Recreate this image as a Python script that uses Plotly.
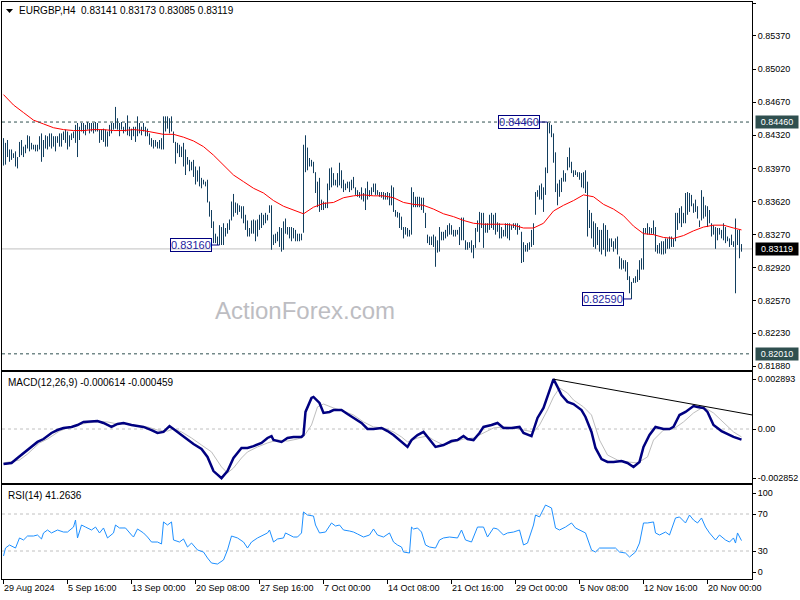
import plotly.graph_objects as go

# ---------------- data ----------------
bar_high = [
0.8429,0.8424,0.8427,0.8417,0.8417,0.8413,0.8415,0.8409,0.8425,0.8427,
0.8420,0.8422,0.8432,0.8431,0.8424,0.8422,0.8422,0.8422,0.8431,0.8434,
0.8427,0.8432,0.8431,0.8434,0.8434,0.8431,0.8431,0.8431,0.8434,0.8434,
0.8436,0.8438,0.8436,0.8432,0.8434,0.8436,0.8443,0.8445,0.8441,0.8445,
0.8445,0.8443,0.8446,0.8445,0.8445,0.8445,0.8446,0.8445,0.8438,0.8438,
0.8439,0.8438,0.8436,0.8443,0.8445,0.8445,0.8462,0.8450,0.8445,0.8446,
0.8441,0.8445,0.8453,0.8441,0.8439,0.8441,0.8441,0.8452,0.8445,0.8441,
0.8445,0.8441,0.8439,0.8434,0.8429,0.8427,0.8427,0.8425,0.8427,0.8429,
0.8452,0.8452,0.8452,0.8450,0.8452,0.8436,0.8425,0.8424,0.8422,0.8420,
0.8424,0.8417,0.8409,0.8406,0.8404,0.8406,0.8399,0.8395,0.8399,0.8387,
0.8385,0.8383,0.8385,0.8362,0.8353,0.8341,0.8328,0.8325,0.8337,0.8335,
0.8339,0.8334,0.8339,0.8343,0.8362,0.8370,0.8361,0.8360,0.8358,0.8357,
0.8357,0.8348,0.8342,0.8334,0.8342,0.8343,0.8342,0.8343,0.8348,0.8350,
0.8348,0.8350,0.8348,0.8358,0.8358,0.8327,0.8328,0.8330,0.8335,0.8334,
0.8341,0.8344,0.8335,0.8335,0.8335,0.8334,0.8332,0.8328,0.8328,0.8328,
0.8422,0.8432,0.8419,0.8408,0.8406,0.8404,0.8393,0.8383,0.8387,0.8364,
0.8362,0.8361,0.8381,0.8397,0.8398,0.8392,0.8385,0.8392,0.8403,0.8395,
0.8385,0.8381,0.8383,0.8383,0.8385,0.8388,0.8377,0.8374,0.8372,0.8377,
0.8371,0.8376,0.8383,0.8374,0.8377,0.8381,0.8381,0.8374,0.8372,0.8372,
0.8372,0.8371,0.8372,0.8371,0.8379,0.8377,0.8353,0.8351,0.8350,0.8346,
0.8335,0.8335,0.8334,0.8332,0.8377,0.8372,0.8367,0.8367,0.8367,0.8366,
0.8366,0.8350,0.8327,0.8325,0.8325,0.8327,0.8325,0.8321,0.8335,0.8330,
0.8330,0.8332,0.8337,0.8339,0.8337,0.8332,0.8332,0.8332,0.8335,0.8345,
0.8345,0.8321,0.8319,0.8319,0.8321,0.8316,0.8334,0.8342,0.8351,0.8350,
0.8350,0.8339,0.8339,0.8348,0.8350,0.8348,0.8350,0.8340,0.8339,0.8335,
0.8332,0.8339,0.8339,0.8339,0.8337,0.8339,0.8339,0.8339,0.8337,0.8330,
0.8319,0.8316,0.8318,0.8319,0.8332,0.8339,0.8372,0.8374,0.8379,0.8381,
0.8377,0.8398,0.8446,0.8445,0.8443,0.8434,0.8414,0.8381,0.8385,0.8387,
0.8395,0.8392,0.8409,0.8419,0.8404,0.8395,0.8395,0.8393,0.8393,0.8392,
0.8393,0.8395,0.8383,0.8353,0.8350,0.8341,0.8339,0.8335,0.8332,0.8332,
0.8339,0.8337,0.8332,0.8323,0.8323,0.8320,0.8323,0.8325,0.8304,0.8302,
0.8300,0.8300,0.8298,0.8283,0.8277,0.8281,0.8283,0.8290,0.8300,0.8302,
0.8334,0.8334,0.8339,0.8335,0.8334,0.8342,0.8335,0.8316,0.8318,0.8320,
0.8320,0.8323,0.8323,0.8325,0.8325,0.8323,0.8350,0.8350,0.8355,0.8357,
0.8350,0.8371,0.8372,0.8371,0.8369,0.8360,0.8364,0.8357,0.8342,0.8374,
0.8367,0.8358,0.8357,0.8353,0.8339,0.8337,0.8335,0.8334,0.8334,0.8332,
0.8339,0.8335,0.8325,0.8323,0.8327,0.8320,0.8344,0.8332,0.8332,0.8317]

bar_low = [
0.8400,0.8401,0.8409,0.8404,0.8406,0.8408,0.8399,0.8397,0.8409,0.8411,
0.8409,0.8413,0.8418,0.8415,0.8417,0.8417,0.8415,0.8415,0.8417,0.8404,
0.8409,0.8418,0.8417,0.8420,0.8418,0.8420,0.8415,0.8424,0.8420,0.8420,
0.8427,0.8424,0.8417,0.8420,0.8427,0.8429,0.8424,0.8409,0.8427,0.8436,
0.8434,0.8432,0.8438,0.8434,0.8436,0.8434,0.8436,0.8436,0.8424,0.8427,
0.8425,0.8420,0.8420,0.8431,0.8434,0.8438,0.8439,0.8438,0.8431,0.8438,
0.8434,0.8436,0.8432,0.8431,0.8427,0.8431,0.8425,0.8431,0.8434,0.8432,
0.8436,0.8431,0.8431,0.8422,0.8420,0.8418,0.8420,0.8418,0.8418,0.8417,
0.8417,0.8436,0.8439,0.8434,0.8436,0.8424,0.8402,0.8413,0.8409,0.8409,
0.8399,0.8390,0.8401,0.8394,0.8395,0.8388,0.8380,0.8383,0.8378,0.8376,
0.8380,0.8378,0.8361,0.8346,0.8334,0.8318,0.8318,0.8316,0.8316,0.8316,
0.8316,0.8325,0.8328,0.8332,0.8342,0.8346,0.8350,0.8348,0.8351,0.8344,
0.8339,0.8332,0.8325,0.8325,0.8328,0.8328,0.8320,0.8325,0.8332,0.8334,
0.8337,0.8339,0.8342,0.8350,0.8311,0.8316,0.8318,0.8320,0.8314,0.8309,
0.8311,0.8328,0.8327,0.8323,0.8320,0.8323,0.8320,0.8320,0.8320,0.8321,
0.8329,0.8393,0.8395,0.8399,0.8399,0.8392,0.8371,0.8356,0.8351,0.8353,
0.8353,0.8355,0.8355,0.8374,0.8377,0.8379,0.8379,0.8377,0.8379,0.8376,
0.8372,0.8374,0.8376,0.8372,0.8374,0.8376,0.8369,0.8367,0.8366,0.8364,
0.8362,0.8353,0.8364,0.8367,0.8369,0.8372,0.8369,0.8369,0.8367,0.8366,
0.8364,0.8364,0.8364,0.8358,0.8358,0.8351,0.8346,0.8345,0.8334,0.8332,
0.8323,0.8327,0.8325,0.8325,0.8327,0.8356,0.8356,0.8356,0.8356,0.8353,
0.8350,0.8334,0.8318,0.8316,0.8316,0.8314,0.8293,0.8308,0.8309,0.8321,
0.8321,0.8323,0.8325,0.8327,0.8327,0.8325,0.8325,0.8327,0.8316,0.8321,
0.8321,0.8311,0.8311,0.8313,0.8308,0.8302,0.8313,0.8330,0.8319,0.8334,
0.8313,0.8329,0.8329,0.8332,0.8334,0.8332,0.8327,0.8330,0.8323,0.8323,
0.8325,0.8325,0.8323,0.8321,0.8332,0.8334,0.8332,0.8327,0.8332,0.8297,
0.8298,0.8309,0.8309,0.8311,0.8314,0.8316,0.8348,0.8367,0.8364,0.8364,
0.8351,0.8369,0.8392,0.8434,0.8430,0.8403,0.8372,0.8358,0.8367,0.8372,
0.8383,0.8383,0.8395,0.8398,0.8392,0.8388,0.8390,0.8388,0.8385,0.8377,
0.8376,0.8371,0.8325,0.8334,0.8323,0.8314,0.8312,0.8316,0.8309,0.8306,
0.8311,0.8304,0.8309,0.8309,0.8314,0.8309,0.8312,0.8306,0.8291,0.8290,
0.8291,0.8288,0.8279,0.8265,0.8259,0.8276,0.8276,0.8277,0.8279,0.8290,
0.8290,0.8328,0.8327,0.8327,0.8328,0.8327,0.8309,0.8307,0.8307,0.8306,
0.8306,0.8307,0.8312,0.8312,0.8314,0.8314,0.8320,0.8332,0.8339,0.8335,
0.8339,0.8339,0.8348,0.8351,0.8357,0.8350,0.8351,0.8344,0.8335,0.8342,
0.8344,0.8346,0.8335,0.8339,0.8325,0.8327,0.8312,0.8321,0.8327,0.8323,
0.8321,0.8318,0.8320,0.8314,0.8316,0.8314,0.8265,0.8316,0.8302,0.8309]

ma_bar = list(range(0, 370, 5)) + [369]
ma_val = [
0.8475,0.8464,0.8456,0.8448,0.8444,0.8440,0.8438,0.8437,0.8437,0.8438,
0.8438,0.8437,0.8437,0.8438,0.8437,0.8435,0.8433,0.8433,0.8430,0.8426,
0.8420,0.8411,0.8400,0.8390,0.8383,0.8376,0.8371,0.8363,0.8357,0.8353,
0.8349,0.8356,0.8360,0.8361,0.8366,0.8368,0.8369,0.8368,0.8368,0.8366,
0.8361,0.8359,0.8358,0.8354,0.8349,0.8346,0.8342,0.8339,0.8338,0.8338,
0.8338,0.8337,0.8334,0.8334,0.8339,0.8352,0.8358,0.8363,0.8369,0.8367,
0.8359,0.8354,0.8347,0.8336,0.8328,0.8327,0.8324,0.8323,0.8326,0.8331,
0.8335,0.8337,0.8337,0.8334,0.8332]

macd_bar = [0,4,7,10,14,17,20,24,27,30,34,37,40,44,47,50,54,57,60,64,67,70,74,77,80,83,85,89,92,95,
            99,102,105,109,112,115,119,122,125,129,132,134,135,139,142,145,149,150,151,154,155,158,160,
            163,165,169,172,175,179,182,185,189,192,195,199,202,204,207,210,214,216,220,224,227,230,232,
            235,238,240,244,247,250,254,258,260,264,267,270,273,275,277,279,282,285,289,291,294,296,299,
            302,305,309,312,315,318,320,323,326,330,333,335,338,341,345,347,350,352,355,359,362,365,369]
macd_val = [-0.00203,-0.00197,-0.00168,-0.00139,-0.00104,-0.00075,-0.00058,-0.00023,-0.00006,0.00006,
            0.00012,0.00023,0.00041,0.00046,0.00046,0.00035,0.00012,0.00029,0.00035,0.00023,0.00017,
            0.00012,-0.00006,-0.00023,-0.00017,0.00017,0.0,-0.00035,-0.00064,-0.00087,-0.00116,-0.00162,
            -0.00244,-0.00285,-0.00244,-0.00168,-0.00110,-0.00110,-0.00099,-0.00081,-0.00052,-0.00041,
            -0.00064,-0.00075,-0.00052,-0.00046,-0.00046,-0.00035,0.00099,0.00180,0.00186,0.00151,0.00093,
            0.00099,0.00110,0.00110,0.00087,0.00064,0.00035,0.0,0.0,0.00006,-0.00012,-0.00035,-0.00075,
            -0.00104,-0.00064,-0.00035,-0.00017,-0.00075,-0.00104,-0.00093,-0.00070,-0.00064,-0.00041,
            -0.00058,-0.00064,-0.00023,0.00012,0.00023,0.00035,0.00006,0.00006,0.00012,-0.00023,-0.00041,
            0.00064,0.00122,0.00215,0.00289,0.00244,0.00197,0.00157,0.00145,0.00110,0.00070,-0.00017,
            -0.00110,-0.00174,-0.00191,-0.00191,-0.00186,-0.00197,-0.00220,-0.00191,-0.00104,-0.00035,
            0.00012,0.0,0.0,0.00012,0.00081,0.00099,0.00133,0.00128,0.00122,0.00099,0.00023,-0.00012,
            -0.00029,-0.00046,-0.000614]

signal_bar = [0,8,12,15,18,22,25,28,32,37,42,47,52,57,62,67,72,77,82,85,89,94,99,104,109,112,115,119,
              122,127,132,137,142,147,150,154,157,160,165,170,175,180,185,190,195,199,202,207,212,215,
              220,225,230,235,240,245,250,255,260,265,268,272,275,278,282,285,290,294,298,302,307,312,
              317,322,325,330,335,340,345,350,355,360,365,369]
signal_val = [-0.00197,-0.00180,-0.00145,-0.00110,-0.00081,-0.00058,-0.00035,-0.00012,0.00006,0.00023,
              0.00035,0.00041,0.00041,0.00029,0.00029,0.00017,0.00012,-0.00006,-0.00012,0.0,-0.00017,
              -0.00052,-0.00093,-0.00133,-0.00220,-0.00255,-0.00226,-0.00168,-0.00133,-0.00104,-0.00081,
              -0.00064,-0.00070,-0.00058,-0.00046,0.00023,0.00128,0.00145,0.00122,0.00104,0.00081,0.00041,
              0.00012,0.00006,-0.00017,-0.00046,-0.00075,-0.00052,-0.00041,-0.00064,-0.00093,-0.00075,
              -0.00058,-0.00052,-0.00023,0.00006,0.00012,0.00006,-0.00006,-0.00017,0.00023,0.00110,
              0.00186,0.00238,0.00209,0.00168,0.00128,0.00081,-0.00064,-0.00151,-0.00180,-0.00191,
              -0.00197,-0.00162,-0.00064,-0.00006,0.0,0.00041,0.00093,0.00128,0.00093,0.00035,-0.00017,
              -0.000459]

trend_bar = [275, 374.5]
trend_val = [0.00289, 0.00081]

rsi_bar = [0,1,3,5,6,8,10,12,15,17,19,20,22,24,27,30,32,35,36,37,39,41,44,46,48,50,52,55,56,58,61,64,
           65,67,70,72,74,77,79,80,82,84,85,88,90,92,94,97,100,102,104,107,110,112,114,117,120,122,124,
           127,130,132,133,135,137,140,141,143,145,147,149,150,152,155,156,158,161,164,166,168,170,173,
           175,177,180,183,185,187,190,193,195,197,199,200,203,204,205,207,209,211,213,216,218,220,223,
           227,229,231,234,237,240,242,245,247,250,252,255,258,260,262,265,266,268,271,274,276,278,281,
           284,286,288,291,294,296,298,301,303,306,308,311,313,316,318,320,322,325,326,328,331,333,336,
           338,341,343,345,347,349,351,353,356,358,361,363,365,366,367,369]
rsi_val = [24.6,33.2,36.5,34.3,33.2,44.1,41.9,46.2,46.2,47.3,43.0,49.5,52.7,49.5,52.7,50.5,50.5,55.9,
           63.5,44.1,58.1,55.9,52.7,55.9,49.5,54.9,44.1,49.5,58.1,54.9,54.9,47.3,45.1,53.8,49.5,45.1,
           39.7,39.7,37.6,61.4,58.1,61.4,41.9,39.7,43.0,34.3,38.6,31.1,28.9,22.4,17.0,15.9,20.3,31.1,
           46.2,44.1,39.7,33.2,39.7,44.1,47.3,49.5,52.7,39.7,43.0,44.1,49.5,47.3,45.1,45.1,49.5,72.2,
           68.9,67.8,58.1,49.5,50.5,60.3,57.0,58.1,52.7,51.6,50.5,48.4,45.1,47.3,53.8,47.3,45.1,49.5,
           39.7,36.5,34.3,28.9,27.8,55.9,53.8,54.9,50.5,36.5,34.3,33.2,41.9,44.1,45.1,44.1,52.7,41.9,
           39.7,55.9,55.9,45.1,54.9,53.8,47.3,49.5,50.5,52.7,36.5,38.6,58.1,68.9,66.8,79.7,76.5,54.9,
           52.7,55.9,60.3,54.9,52.7,49.5,31.1,28.9,33.2,33.2,33.2,33.2,28.9,27.8,23.5,28.9,38.6,60.3,
           60.3,61.4,49.5,47.3,50.5,47.3,65.7,66.8,60.3,68.9,63.5,60.3,65.7,55.9,49.5,41.9,47.3,41.9,
           39.7,44.1,38.6,49.5,41.26]

price_ticks = [0.8571, 0.8537, 0.8502, 0.8467, 0.8432, 0.8397, 0.8362, 0.8327, 0.8292, 0.8257, 0.8223, 0.8188]
date_labels = ["29 Aug 2024", "5 Sep 16:00", "13 Sep 00:00", "20 Sep 08:00", "27 Sep 16:00", "7 Oct 00:00",
               "14 Oct 08:00", "21 Oct 16:00", "29 Oct 00:00", "5 Nov 08:00", "12 Nov 16:00", "20 Nov 00:00"]
date_bars = [0, 32, 64, 96, 128, 160, 192, 224, 256, 288, 320, 352]

high_mark = 0.8446      # 0.84460 line
low_mark = 0.8201       # 0.82010 line
last_price = 0.83119
swing_labels = [(272, 0.8446, "0.84460"), (108, 0.8316, "0.83160"), (314, 0.8259, "0.82590")]
title_text = "EURGBP,H4\u00a0\u00a00.83141 0.83173 0.83085 0.83119"
macd_text = "MACD(12,26,9) -0.000614 -0.000459"
rsi_text = "RSI(14) 41.2636"

# ---------------- figure ----------------
W, H = 800, 600
FONT = "Liberation Sans, Arial, sans-serif"
BAR_COLOR = "#123E5E"

def py(p):  # pixel row -> paper y
    return 1 - p / H

def px(p):
    return p / W

bx, by = [], []
for i, (h, l) in enumerate(zip(bar_high, bar_low)):
    bx += [i, i, None]
    by += [l, h, None]

fig = go.Figure()
fig.add_trace(go.Scatter(x=bx, y=by, mode="lines", line=dict(color=BAR_COLOR, width=1),
                         xaxis="x", yaxis="y", hoverinfo="skip", showlegend=False))
fig.add_trace(go.Scatter(x=ma_bar, y=ma_val, mode="lines", line=dict(color="#FF0000", width=1),
                         xaxis="x", yaxis="y", showlegend=False))
fig.add_trace(go.Scatter(x=signal_bar, y=signal_val, mode="lines", line=dict(color="#BEBEBE", width=1),
                         xaxis="x2", yaxis="y2", showlegend=False))
fig.add_trace(go.Scatter(x=macd_bar, y=macd_val, mode="lines", line=dict(color="#000080", width=2.5),
                         xaxis="x2", yaxis="y2", showlegend=False))
fig.add_trace(go.Scatter(x=trend_bar, y=trend_val, mode="lines", line=dict(color="#000000", width=1),
                         xaxis="x2", yaxis="y2", showlegend=False, cliponaxis=True))
fig.add_trace(go.Scatter(x=rsi_bar, y=rsi_val, mode="lines", line=dict(color="#1E90FF", width=1),
                         xaxis="x3", yaxis="y3", showlegend=False))

xdom = [px(2), px(752)]
xr = [-0.75, 374.25]
common_x = dict(domain=xdom, range=xr, showline=True, mirror=True, linecolor="black", linewidth=1,
                showgrid=False, zeroline=False, showticklabels=False, fixedrange=True)
common_y = dict(side="right", showline=True, mirror=True, linecolor="black", linewidth=1,
                showgrid=False, zeroline=False, ticks="outside", ticklen=3, tickcolor="black",
                tickfont=dict(family=FONT, size=9, color="black"), fixedrange=True,
                automargin=False)

fig.update_layout(
    width=W, height=H, margin=dict(l=0, r=0, t=0, b=0, pad=0), autosize=False,
    paper_bgcolor="white", plot_bgcolor="white", showlegend=False,
    xaxis=dict(**common_x, anchor="y", ticks=""),
    xaxis2=dict(**common_x, anchor="y2", ticks=""),
    xaxis3=dict(**common_x, anchor="y3", ticks="outside", ticklen=4, tickcolor="black",
                tickvals=date_bars),
    yaxis=dict(**common_y, anchor="x", domain=[py(370), py(2)],
               range=[0.8575 - 370 * 0.0001057, 0.8575 - 2 * 0.0001057],
               tickvals=price_ticks, ticktext=[f"{v:.5f}" for v in price_ticks]),
    yaxis2=dict(**common_y, anchor="x2", domain=[py(483), py(372)],
                range=[-54 * 0.000058, 57 * 0.000058],
                tickvals=[0.002893, 0.0, -0.002852], ticktext=["0.002893", "0.00", "-0.002852"]),
    yaxis3=dict(**common_y, anchor="x3", domain=[py(579), py(485)],
                range=[(578.75 - 579) / 0.925, (578.75 - 485) / 0.925],
                tickvals=[92.7, 70, 30, 7.3], ticktext=["100", "70", "30", "0"]),
)

shapes = []
for lvl in (high_mark, low_mark):
    shapes.append(dict(type="line", xref="x domain", yref="y", x0=0, x1=1, y0=lvl, y1=lvl,
                       line=dict(color="#2F4F4F", width=1, dash="3px,3px")))
shapes.append(dict(type="line", xref="x domain", yref="y", x0=0, x1=1, y0=last_price, y1=last_price,
                   line=dict(color="#C0C0C0", width=1), layer="below"))
shapes.append(dict(type="line", xref="x2 domain", yref="y2", x0=0, x1=1, y0=0, y1=0,
                   line=dict(color="#C0C0C0", width=1, dash="3px,3px"), layer="below"))
for lvl in (70, 30):
    shapes.append(dict(type="line", xref="x3 domain", yref="y3", x0=0, x1=1, y0=lvl, y1=lvl,
                       line=dict(color="#C0C0C0", width=1, dash="3px,3px"), layer="below"))
shapes.append(dict(type="path", xref="paper", yref="paper",
                   path=f"M {px(6)} {py(9)} L {px(13)} {py(9)} L {px(9.5)} {py(13)} Z",
                   fillcolor="black", line=dict(width=0)))
fig.update_layout(shapes=shapes)

ann = []
ann.append(dict(text=title_text, xref="paper", yref="paper", x=px(17), y=py(10), xanchor="left",
                yanchor="middle", showarrow=False, font=dict(family=FONT, size=10, color="black")))
ann.append(dict(text=macd_text, xref="paper", yref="paper", x=px(6), y=py(382), xanchor="left",
                yanchor="middle", showarrow=False, font=dict(family=FONT, size=10, color="black")))
ann.append(dict(text=rsi_text, xref="paper", yref="paper", x=px(6), y=py(495), xanchor="left",
                yanchor="middle", showarrow=False, font=dict(family=FONT, size=10, color="black")))
ann.append(dict(text="ActionForex.com", xref="paper", yref="paper", x=px(305), y=py(310),
                xanchor="center", yanchor="middle", showarrow=False,
                font=dict(family=FONT, size=24, color="#BDBDC2")))
for b, p, t in swing_labels:
    ann.append(dict(text=t, x=b, y=p, xref="x", yref="y", showarrow=True, arrowhead=0,
                    arrowwidth=1, arrowcolor="#000080", ax=-29, ay=0, axref="pixel", ayref="pixel",
                    bordercolor="#000080", borderwidth=1, borderpad=0, bgcolor="rgba(0,0,0,0)",
                    font=dict(family=FONT, size=11, color="#1E1EA0")))
for p, bg in ((high_mark, "#2F4F4F"), (last_price, "#000000"), (low_mark, "#2F4F4F")):
    ann.append(dict(text=f"{p:.5f}", xref="paper", yref="y", x=px(755), y=p, xanchor="left",
                    yanchor="middle", showarrow=False, bgcolor=bg, width=42, height=12,
                    borderpad=0, font=dict(family=FONT, size=9, color="white")))
for b, t in zip(date_bars, date_labels):
    ann.append(dict(text=t, xref="x3", yref="paper", x=b, y=py(588), xanchor="left",
                    yanchor="middle", showarrow=False, xshift=-2,
                    font=dict(family=FONT, size=9, color="black")))
fig.update_layout(annotations=ann)

fig.write_html("out.html", config={"displayModeBar": False},
               post_script="document.body.style.margin='0';document.body.style.overflow='hidden';")
